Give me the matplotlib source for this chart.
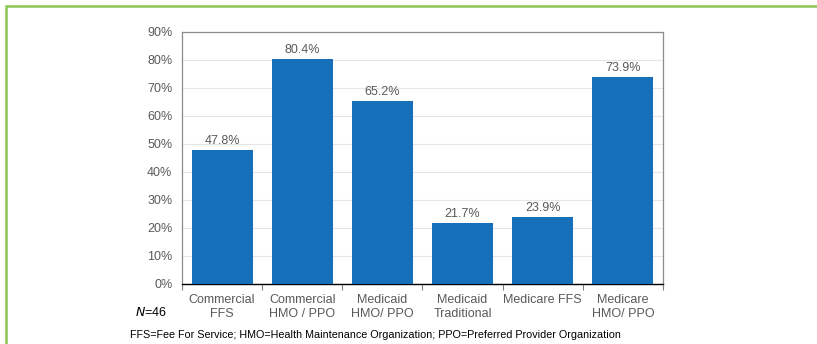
import matplotlib
matplotlib.use("Agg")
import matplotlib.pyplot as plt
from matplotlib.patches import Rectangle
from matplotlib.ticker import FuncFormatter, MultipleLocator

plt.rcParams['font.family'] = ['Liberation Sans', 'DejaVu Sans']

categories = ["Commercial\nFFS", "Commercial\nHMO / PPO", "Medicaid\nHMO/ PPO",
              "Medicaid\nTraditional", "Medicare FFS", "Medicare\nHMO/ PPO"]
values = [47.8, 80.4, 65.2, 21.7, 23.9, 73.9]
value_labels = ["47.8%", "80.4%", "65.2%", "21.7%", "23.9%", "73.9%"]
footnote = "FFS=Fee For Service; HMO=Health Maintenance Organization; PPO=Preferred Provider Organization"

W, H = 817, 344
fig = plt.figure(figsize=(W / 100, H / 100), dpi=100)

# green panel border (open on the right and bottom)
fig.add_artist(Rectangle((6 / W, -0.1), 1.1, (H - 6) / H + 0.1, transform=fig.transFigure,
                         fill=False, edgecolor="#8cc657", linewidth=1.8))

ax = fig.add_axes([182 / W, (H - 284) / H, (663 - 182) / W, (284 - 32) / H])

text_col = "#595959"
bar_col = "#1570b9"
fs = 9

x = range(len(values))
ax.bar(x, values, width=0.76, color=bar_col, zorder=3)
for xi, v, lab in zip(x, values, value_labels):
    ax.text(xi, v + 1.2, lab, ha="center", va="bottom", fontsize=fs, color=text_col)

ax.set_xlim(-0.5, len(values) - 0.5)
ax.set_ylim(0, 90)
ax.yaxis.set_major_locator(MultipleLocator(10))
ax.yaxis.set_major_formatter(FuncFormatter(lambda v, p: f"{v:.0f}%"))
ax.grid(axis="y", color="#e6e6e6", linewidth=0.8, zorder=0)

ax.set_xticks(range(len(values)))
ax.set_xticklabels(categories, fontsize=fs, color=text_col, linespacing=1.25)
ax.set_xticks([i + 0.5 for i in range(-1, len(values))], minor=True)
ax.tick_params(axis="x", which="major", length=0, pad=7)
ax.tick_params(axis="x", which="minor", length=4, color="#808080", width=0.8)
ax.tick_params(axis="y", length=0, labelsize=fs, labelcolor=text_col, pad=7)

for side in ("left", "top", "right"):
    ax.spines[side].set_color("#8c8c8c")
    ax.spines[side].set_linewidth(0.9)
ax.spines["bottom"].set_color("black")
ax.spines["bottom"].set_linewidth(1.0)

fig.text(135 / W, 1 - 313 / H, r"$\it{N}$=46", fontsize=fs, color="black", va="center")
fig.text(130 / W, 1 - 335 / H, footnote, fontsize=7.75, color="black", va="center")

fig.savefig("out.png", dpi=100)
